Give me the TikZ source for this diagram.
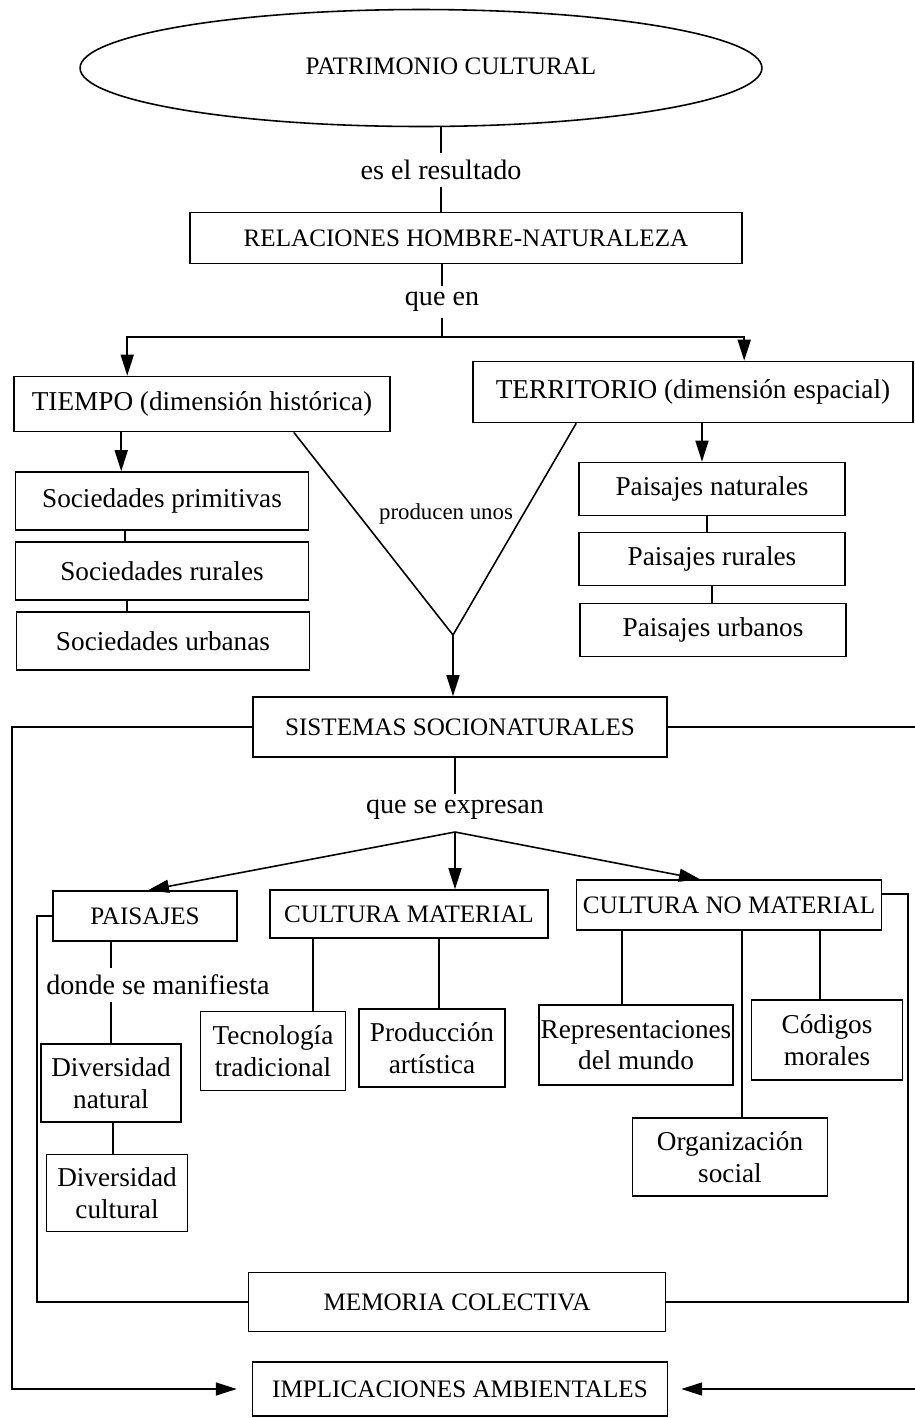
\documentclass[tikz,border=0pt]{standalone}
\usepackage{fontspec}
\setmainfont{Liberation Serif}
\usetikzlibrary{arrows.meta,shapes.geometric}

\begin{document}
\begin{tikzpicture}[x=0.02cm, y=-0.02cm, line width=0.9pt,
    box/.style={draw, align=center, inner sep=1pt},
    caps/.style={font=\fontsize{14.3}{16}\selectfont},
    lower/.style={font=\fontsize{15.5}{18}\selectfont},
    conn/.style={font=\fontsize{16}{18}\selectfont},
    small/.style={font=\fontsize{13}{15}\selectfont},
    arr/.style={-{Triangle[length=0.42cm,width=0.26cm]}}]
    \useasboundingbox (0,0) rectangle (915,1418);
    \clip (0,0) rectangle (915,1418);

    % Draw the top of the map
    \node[draw, ellipse, minimum width=13.64cm, minimum height=2.34cm] (patri) at (421,68) {};
    \node[caps] (patritxt) at (451,66) {PATRIMONIO CULTURAL};
    \node[conn] (resultado) at (441,170) {es el resultado};
    \node[box, caps, minimum width=11.04cm, minimum height=1.02cm] (relac) at (466,238) {RELACIONES HOMBRE-NATURALEZA};
    \node[conn] (queen) at (442,302) {que en};
    \coordinate (split) at (442,337);

    % Draw the two dimensions
    \node[box, lower, minimum width=7.52cm, minimum height=1.1cm] (tiempo) at (202,404) {TIEMPO (dimensión histórica)};
    \node[box, lower, minimum width=8.8cm, minimum height=1.22cm] (territ) at (693,392) {TERRITORIO (dimensión espacial)};

    % Draw the societies
    \node[box, lower, minimum width=5.86cm, minimum height=1.16cm] (socprim) at (162,501) {Sociedades primitivas};
    \node[box, lower, minimum width=5.86cm, minimum height=1.16cm] (socrur) at (162,571) {Sociedades rurales};
    \node[box, lower, minimum width=5.86cm, minimum height=1.16cm] (socurb) at (163,641) {Sociedades urbanas};

    % Draw the landscapes
    \node[box, lower, minimum width=5.32cm, minimum height=1.06cm] (paisnat) at (712,489) {Paisajes naturales};
    \node[box, lower, minimum width=5.32cm, minimum height=1.06cm] (paisrur) at (712,559) {Paisajes rurales};
    \node[box, lower, minimum width=5.32cm, minimum height=1.06cm] (paisurb) at (713,630) {Paisajes urbanos};

    \node[small] (producen) at (446,514) {producen unos};
    \coordinate (vjoin) at (453,635);

    % Draw the middle of the map
    \node[box, caps, minimum width=8.28cm, minimum height=1.2cm] (sist) at (460,727) {SISTEMAS SOCIONATURALES};
    \node[conn] (expresan) at (455,810) {que se expresan};
    \coordinate (fan) at (455,832);

    \node[box, caps, minimum width=3.68cm, minimum height=1cm] (paisajes) at (145,916) {PAISAJES};
    \node[box, caps, minimum width=5.56cm, minimum height=0.96cm] (cultmat) at (409,914) {CULTURA MATERIAL};
    \node[box, caps, minimum width=6.1cm, minimum height=1cm] (cultnomat) at (729,905) {CULTURA NO MATERIAL};

    % Draw the leaves
    \node[conn] (donde) at (158,985) {donde se manifiesta};
    \node[box, lower, minimum width=2.8cm, minimum height=1.56cm] (divnat) at (111,1083) {Diversidad\\natural};
    \node[box, lower, minimum width=2.82cm, minimum height=1.54cm] (divcult) at (117,1193) {Diversidad\\cultural};
    \node[box, lower, minimum width=2.9cm, minimum height=1.58cm] (tecno) at (273,1051) {Tecnología\\tradicional};
    \node[box, lower, minimum width=2.92cm, minimum height=1.56cm] (prod) at (432,1048) {Producción\\artística};
    \node[box, lower, minimum width=3.86cm, minimum height=1.6cm] (repr) at (636,1045) {Representaciones\\del mundo};
    \node[box, lower, minimum width=3.9cm, minimum height=1.56cm] (org) at (730,1157) {Organización\\social};
    \node[box, lower, minimum width=3.02cm, minimum height=1.6cm] (codigos) at (827,1040) {Códigos\\morales};

    % Draw the bottom of the map
    \node[box, caps, minimum width=8.34cm, minimum height=1.18cm] (memoria) at (457,1302) {MEMORIA COLECTIVA};
    \node[box, caps, minimum width=8.3cm, minimum height=1.08cm] (impl) at (460,1389) {IMPLICACIONES AMBIENTALES};

    \coordinate (leftrail) at (12,0);
    \coordinate (innerrail) at (37,0);
    \coordinate (nmrail) at (908,0);
    \coordinate (rightrail) at (930,0);

    % Draw the connectors at the top
    \draw (resultado.north |- patri.south) -- (resultado.north);
    \draw (resultado.south) -- (resultado.south |- relac.north);
    \draw (queen.north |- relac.south) -- (queen.north);
    \draw (queen.south) -- (split);
    \draw[arr] (split) -| ([xshift=2.28cm]tiempo.north west);
    \draw[arr] (split) -| ([xshift=5.44cm]territ.north west);

    \draw[arr] ([xshift=2.16cm]tiempo.south west) -- ([xshift=2.16cm]tiempo.south west |- socprim.north);
    \draw ([xshift=-0.74cm]socprim.south) -- ([xshift=-0.74cm]socprim.south |- socrur.north);
    \draw ([xshift=-0.7cm]socrur.south) -- ([xshift=-0.7cm]socrur.south |- socurb.north);

    \draw[arr] ([xshift=0.18cm]territ.south) -- ([xshift=0.18cm]territ.south |- paisnat.north);
    \draw ([xshift=-0.1cm]paisnat.south) -- ([xshift=-0.1cm]paisnat.south |- paisrur.north);
    \draw (paisrur.south) -- (paisrur.south |- paisurb.north);

    % Draw the V into the systems
    \draw ([xshift=-1.94cm]tiempo.south east) -- (vjoin);
    \draw ([xshift=2.08cm]territ.south west) -- (vjoin);
    \draw[arr] (vjoin) -- (vjoin |- sist.north);

    % Draw the connectors in the middle
    \draw (expresan.north |- sist.south) -- (expresan.north);
    \draw[arr] (fan) -- ([xshift=0.06cm]paisajes.north);
    \draw[arr] (fan) -- (fan |- cultmat.north);
    \draw[arr] (fan) -- ([xshift=-0.58cm]cultnomat.north);

    \draw (divnat |- paisajes.south) -- (divnat |- donde.north);
    \draw (divnat |- donde.south) -- (divnat.north);
    \draw ([xshift=0.04cm]divnat.south) -- ([xshift=0.04cm]divnat.south |- divcult.north);

    \draw ([xshift=0.8cm]tecno.north) -- ([xshift=0.8cm]tecno.north |- cultmat.south);
    \draw ([xshift=0.14cm]prod.north) -- ([xshift=0.14cm]prod.north |- cultmat.south);
    \draw ([xshift=-0.28cm]repr.north) -- ([xshift=-0.28cm]repr.north |- cultnomat.south);
    \draw ([xshift=0.24cm]org.north) -- ([xshift=0.24cm]org.north |- cultnomat.south);
    \draw ([xshift=-0.14cm]codigos.north) -- ([xshift=-0.14cm]codigos.north |- cultnomat.south);

    % Draw the side rails
    \draw (paisajes.west) -- (paisajes.west -| innerrail) |- (memoria.west);
    \draw ([yshift=-0.3cm]cultnomat.north east) -- ([yshift=-0.3cm]cultnomat.north east -| nmrail) |- (memoria.east);
    \draw[arr, shorten >=0.3cm] (sist.west) -- (sist.west -| leftrail) |- (impl.west);
    \draw[arr, shorten >=0.26cm] (sist.east) -- (sist.east -| rightrail) |- (impl.east);
\end{tikzpicture}
\end{document}
